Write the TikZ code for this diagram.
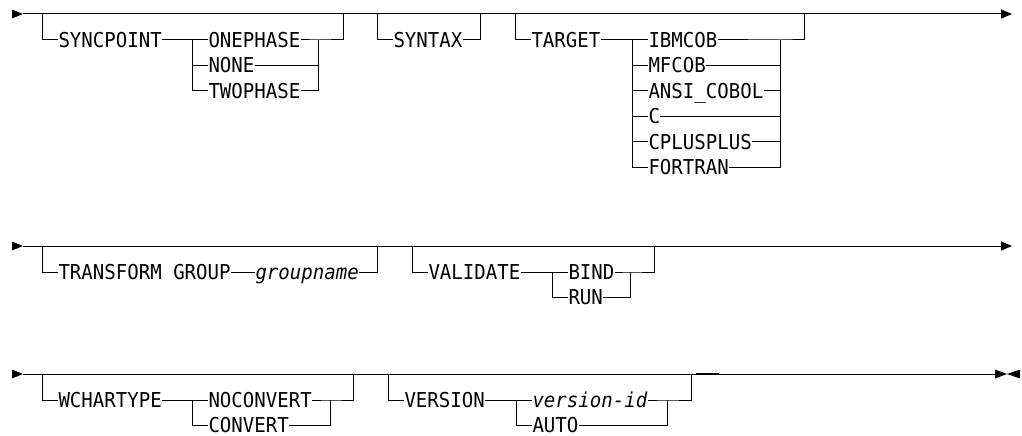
\documentclass[tikz,border=0pt]{standalone}
\usepackage{fontspec}
\setmonofont[FakeStretch=0.93]{DejaVu Sans Mono}
\usetikzlibrary{arrows.meta}

\begin{document}
\begin{tikzpicture}[x=1pt,y=-1pt,line width=1pt,
  kw/.style={font=\ttfamily\fontsize{20.5}{24}\selectfont,inner sep=0pt,anchor=west,
    text height=14.9pt,text depth=0pt},
  var/.style={kw,font=\ttfamily\itshape\fontsize{20.5}{24}\selectfont},
  tip/.style={-{Triangle[length=11pt,width=9pt]}}]
  \useasboundingbox (0,0) rectangle (1022,436);

  % first line: SYNCPOINT, SYNTAX, TARGET
  \coordinate (r1 start) at (23,14);
  \coordinate (r1 end) at (1012,14);
  \fill (12,9.5) -- (r1 start) -- (12,18.5) -- cycle;
  \draw[tip] (r1 start) -- (r1 end);

  \coordinate (sp in) at (42,14);
  \coordinate (sp out) at (343,14);
  \coordinate (sp join) at (318,40);
  \node[kw] (syncpoint) at (58,40) {SYNCPOINT};
  \node[kw] (onephase) at (208,40) {ONEPHASE};
  \node[kw] (none) at (208,65.4) {NONE};
  \node[kw] (twophase) at (208,90.8) {TWOPHASE};
  \draw (sp in) |- (syncpoint.west);
  \draw (syncpoint.east) -- (onephase.west);
  \draw ([xshift=-16pt]onephase.west) |- (twophase.west);
  \draw ([xshift=-16pt]none.west) -- (none.west);
  \draw (none.east) -| (sp join);
  \draw (twophase.east) -| (sp join);
  \draw (onephase.east) -- (sp join) -| (sp out);

  \coordinate (sx in) at (377,14);
  \coordinate (sx out) at (480,14);
  \node[kw] (syntax) at (393,40) {SYNTAX};
  \draw (sx in) |- (syntax.west);
  \draw (syntax.east) -| (sx out);

  \coordinate (tg in) at (515,14);
  \coordinate (tg out) at (804,14);
  \coordinate (tg join) at (780,40);
  \node[kw] (target) at (531,40) {TARGET};
  \node[kw] (ibmcob) at (648,40) {IBMCOB};
  \node[kw] (mfcob) at (648,65.4) {MFCOB};
  \node[kw] (ansi) at (648,90.8) {ANSI\_COBOL};
  \node[kw] (c) at (648,116.2) {C};
  \node[kw] (cplus) at (648,141.6) {CPLUSPLUS};
  \node[kw] (fortran) at (648,167) {FORTRAN};
  \draw (tg in) |- (target.west);
  \draw (target.east) -- (ibmcob.west);
  \draw ([xshift=-16pt]ibmcob.west) |- (fortran.west);
  \foreach \n in {mfcob,ansi,c,cplus}
    \draw ([xshift=-16pt]\n.west) -- (\n.west);
  \foreach \n in {mfcob,ansi,c,cplus,fortran}
    \draw (\n.east) -| (tg join);
  \draw (ibmcob.east) -- (tg join) -| (tg out);

  % second line: TRANSFORM GROUP, VALIDATE
  \coordinate (r2 start) at (23,246);
  \coordinate (r2 end) at (1012,246);
  \fill (12,241.5) -- (r2 start) -- (12,250.5) -- cycle;
  \draw[tip] (r2 start) -- (r2 end);

  \coordinate (tf in) at (42,246);
  \coordinate (tf out) at (377,246);
  \node[kw] (transform) at (58,272) {TRANSFORM GROUP};
  \node[var] (groupname) at (255,272) {groupname};
  \draw (tf in) |- (transform.west);
  \draw (transform.east) -- (groupname.west);
  \draw (groupname.east) -| (tf out);

  \coordinate (vd in) at (412,246);
  \coordinate (vd out) at (654,246);
  \coordinate (vd join) at (630,272);
  \node[kw] (validate) at (428,272) {VALIDATE};
  \node[kw] (bind) at (568,272) {BIND};
  \node[kw] (run) at (568,297.4) {RUN};
  \draw (vd in) |- (validate.west);
  \draw (validate.east) -- (bind.west);
  \draw ([xshift=-16pt]bind.west) |- (run.west);
  \draw (run.east) -| (vd join);
  \draw (bind.east) -- (vd join) -| (vd out);

  % third line: WCHARTYPE, VERSION
  \coordinate (r3 start) at (23,374);
  \coordinate (r3 end) at (995,374);
  \fill (12,369.5) -- (r3 start) -- (12,378.5) -- cycle;
  \draw (r3 start) -- (r3 end);
  \fill (r3 end) ++(0,-4.5) -- (1007,374) -- (995,378.5) -- cycle;
  \fill (1020,369.5) -- (1007,374) -- (1020,378.5) -- cycle;

  \coordinate (wc in) at (42,374);
  \coordinate (wc out) at (353,374);
  \coordinate (wc join) at (330,400);
  \node[kw] (wchartype) at (58,400) {WCHARTYPE};
  \node[kw] (noconvert) at (208,400) {NOCONVERT};
  \node[kw] (convert) at (208,425.4) {CONVERT};
  \draw (wc in) |- (wchartype.west);
  \draw (wchartype.east) -- (noconvert.west);
  \draw ([xshift=-16pt]noconvert.west) |- (convert.west);
  \draw (convert.east) -| (wc join);
  \draw (noconvert.east) -- (wc join) -| (wc out);

  \coordinate (vs in) at (388,374);
  \coordinate (vs out) at (691,374);
  \coordinate (vs join) at (667,400);
  \node[kw] (version) at (404,400) {VERSION};
  \node[var] (versionid) at (532,400) {version-id};
  \node[kw] (auto) at (532,425.4) {AUTO};
  \draw (vs in) |- (version.west);
  \draw (version.east) -- (versionid.west);
  \draw ([xshift=-16pt]versionid.west) |- (auto.west);
  \draw (auto.east) -| (vs join);
  \draw (versionid.east) -- (vs join) -| (vs out);
  \draw[line width=2.4pt] (696,374) -- (719,374);
\end{tikzpicture}
\end{document}
